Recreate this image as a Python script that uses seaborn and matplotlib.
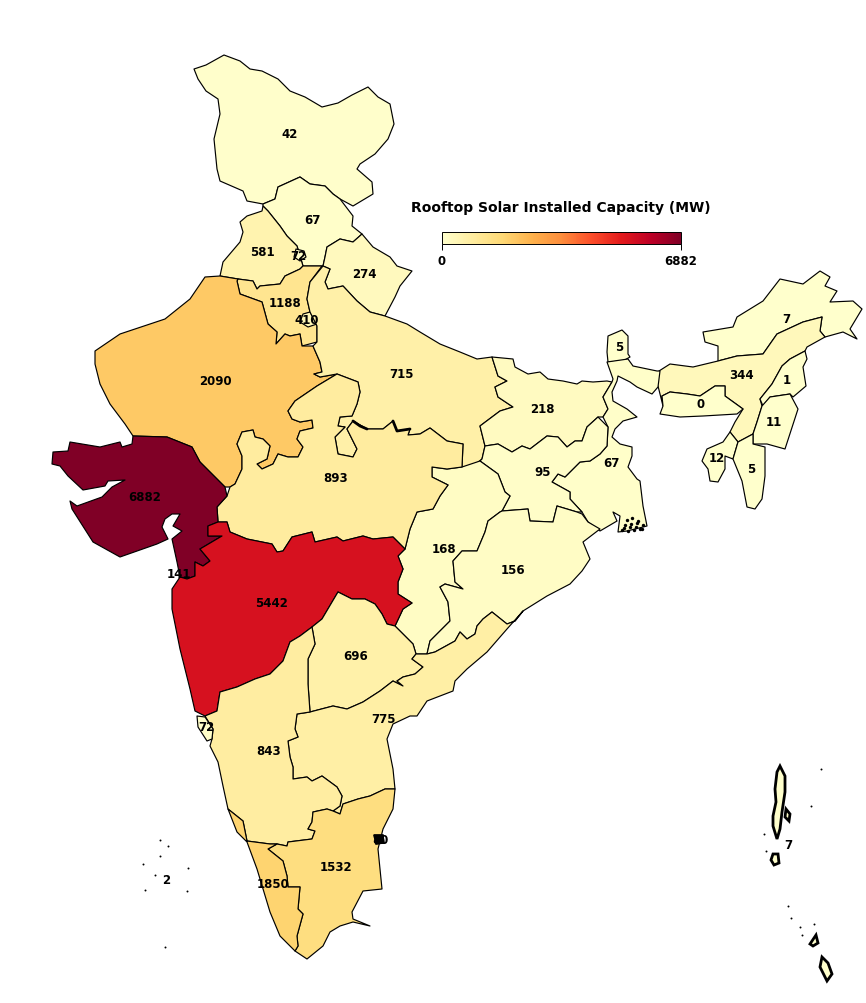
import numpy as np
import matplotlib
matplotlib.use('Agg')
import matplotlib.pyplot as plt
from matplotlib.cm import ScalarMappable
from matplotlib.colors import Normalize
import seaborn as sns
sns.set_style('white')
plt.rcParams['font.family'] = ['DejaVu Sans']

# installed capacity per state, MW
states = ['J&K','Himachal','Punjab','Chandigarh','Haryana','Delhi','Uttarakhand','Rajasthan','UP','Bihar',
          'Sikkim','Arunachal','Assam','Nagaland','Meghalaya','Manipur','Tripura','Mizoram','West Bengal',
          'Jharkhand','Chhattisgarh','Odisha','MP','Gujarat','Daman','Maharashtra','Telangana','AP',
          'Karnataka','Goa','Tamil Nadu','Kerala','Puducherry','Lakshadweep','Andaman']
capacity = [42,67,581,72,1188,410,274,2090,715,218,5,7,344,1,0,11,12,5,67,95,168,156,893,6882,141,5442,696,775,
            843,72,1532,1850,80,2,7]
label_x = [290,312,262,298,285,307,364,215,401,542,619,786,741,787,701,774,717,751,611,543,444,513,336,145,179,
           271,356,383,269,206,336,273,380,166,788]
label_y = [134,220,252,257,304,321,275,382,375,410,348,320,376,381,405,423,459,470,464,473,550,571,479,498,575,
           604,657,720,752,728,868,885,841,881,846]

# state outlines
jk = [(194,70),(206,66),(224,56),(240,62),(250,70),(262,72),(278,80),(290,92),(305,98),(322,108),(338,104),(352,96),
      (368,88),(378,98),(390,105),(394,125),(388,140),(375,155),(360,165),(357,170),(372,183),(373,195),(353,207),
      (340,200),(333,195),(325,187),(310,185),(300,178),(278,188),(275,200),(263,205),(247,202),(243,192),(220,182),
      (217,170),(214,140),(220,115),(218,100),(206,92),(198,80)]
hp = [(263,205),(275,200),(278,188),(300,178),(310,185),(325,187),(333,195),(340,200),(353,217),(352,227),(362,235),
      (353,243),(340,240),(327,248),(325,258),(323,267),(303,267),(297,247),(287,237),(280,227),(268,212),(263,207)]
punjab = [(263,207),(268,212),(280,227),(287,237),(297,247),(303,267),(300,270),(285,277),(280,285),(260,287),
          (257,290),(253,282),(238,280),(220,277),(223,263),(240,243),(243,233),(240,223),(247,217),(262,212)]
chandigarh = [(296,250),(304,252),(306,258),(300,262),(294,258)]
haryana = [(238,280),(253,282),(257,290),(260,287),(280,285),(285,277),(300,270),(303,267),(322,267),(310,283),
           (307,300),(310,313),(317,327),(317,343),(302,347),(300,335),(290,337),(285,335),(276,345),(277,333),
           (268,325),(262,303),(240,295),(237,282)]
delhi = [(303,315),(310,313),(317,325),(308,328),(300,323)]
uttarakhand = [(327,248),(340,240),(353,243),(362,235),(373,248),(390,258),(397,267),(412,272),(400,287),(395,298),
               (385,317),(370,313),(357,302),(343,287),(328,290),(325,283),(330,270),(323,267),(325,258)]
rajasthan = [(95,352),(120,335),(165,320),(190,300),(205,278),(220,277),(238,280),(237,282),(240,295),(262,303),
             (268,325),(277,333),(276,345),(285,335),(290,337),(300,335),(302,347),(313,347),(320,363),(322,373),
             (314,375),(320,378),(337,375),(317,387),(295,402),(288,412),(292,420),(300,423),(312,421),(313,429),
             (300,432),(297,440),(303,448),(298,458),(288,458),(278,455),(273,465),(262,470),(257,465),(267,460),
             (270,447),(263,440),(255,438),(253,431),(242,433),(237,445),(242,457),(242,470),(235,485),(230,488),
             (225,488),(200,463),(192,448),(167,438),(133,437),(125,425),(110,405),(100,385),(95,365)]
up = [(323,267),(330,270),(325,283),(328,290),(343,287),(357,302),(370,313),(385,317),(407,325),(420,333),(440,345),
      (460,353),(477,360),(492,358),(498,377),(507,382),(495,388),(498,398),(513,408),(500,412),(480,427),(485,447),
      (482,460),(472,468),(462,468),(463,445),(447,442),(430,429),(420,435),(408,436),(410,430),(397,432),(393,422),
      (383,430),(367,430),(353,422),(347,430),(357,450),(353,458),(338,455),(335,438),(345,428),(338,427),(340,418),
      (352,417),(357,405),(360,393),(358,383),(337,375),(320,378),(314,375),(322,373),(320,363),(313,347),(317,343),
      (317,327),(310,313),(307,300),(310,283)]
bihar = [(492,358),(513,360),(515,368),(528,375),(540,373),(548,380),(563,382),(577,385),(582,382),(593,383),
         (607,382),(612,383),(603,398),(608,410),(603,418),(598,418),(587,428),(582,442),(575,442),(567,448),
         (558,438),(547,437),(530,450),(522,447),(512,453),(498,445),(485,447),(480,427),(500,412),(513,408),
         (498,398),(495,388),(507,382),(498,377)]
sikkim = [(608,337),(622,331),(628,337),(628,355),(630,358),(623,362),(608,363),(607,353)]
arunachal = [(703,333),(733,328),(737,318),(763,302),(780,280),(803,285),(820,272),(830,278),(825,287),(837,292),
             (830,303),(853,302),(862,310),(850,330),(857,340),(843,333),(825,338),(820,332),(822,318),(803,323),
             (777,335),(763,355),(737,357),(718,362),(718,347),(705,343)]
assam = [(659,372),(670,365),(693,368),(718,362),(737,357),(763,355),(777,335),(803,323),(822,318),(820,332),
         (825,338),(807,348),(805,352),(790,360),(782,367),(772,385),(760,400),(762,407),(757,423),(753,435),
         (738,443),(730,433),(735,423),(743,410),(725,397),(725,387),(715,387),(700,397),(687,395),(670,393),
         (662,397),(663,407),(658,387),(655,385)]
nagaland = [(805,352),(807,360),(803,368),(806,387),(793,398),(790,395),(770,398),(763,407),(760,400),(772,385),
            (782,367),(790,360)]
meghalaya = [(662,397),(670,393),(687,395),(700,397),(715,387),(725,387),(725,397),(743,410),(737,415),(703,417),
             (680,418),(660,415),(663,407)]
manipur = [(762,407),(770,398),(790,395),(798,410),(785,450),(767,445),(753,445),(753,435),(757,423)]
tripura = [(730,433),(738,443),(733,460),(725,457),(725,470),(718,483),(710,482),(708,470),(702,462),(707,450),
           (723,443)]
mizoram = [(738,443),(753,435),(753,445),(765,448),(765,477),(762,500),(755,510),(747,508),(742,482),(733,460)]
west_bengal = [(607,363),(628,360),(633,367),(657,372),(660,372),(658,388),(652,395),(637,388),(630,383),(618,377),
               (617,382),(612,393),(613,402),(627,410),(637,418),(623,422),(615,430),(612,438),(620,445),(632,448),
               (632,457),(628,468),(637,480),(640,482),(643,507),(647,527),(627,532),(618,533),(620,517),(613,513),
               (617,522),(600,532),(588,523),(582,513),(570,500),(570,493),(552,483),(558,475),(565,478),(580,463),
               (590,462),(600,455),(607,447),(608,428),(603,418),(608,410),(603,398),(612,383),(613,380)]
jharkhand = [(485,447),(498,445),(512,453),(522,447),(530,450),(547,437),(558,438),(567,448),(575,442),(582,442),
             (587,428),(598,418),(608,428),(607,447),(600,455),(590,462),(580,463),(565,478),(558,475),(552,483),
             (570,493),(570,500),(582,513),(577,513),(557,507),(553,523),(530,522),(528,510),(502,512),(510,497),
             (505,493),(498,475),(480,462),(482,460)]
chhattisgarh = [(462,468),(480,462),(498,475),(505,493),(510,497),(502,512),(500,513),(488,522),(485,533),(477,552),
                (462,552),(453,562),(455,583),(463,590),(445,585),(440,588),(448,603),(450,622),(430,642),(427,655),
                (416,655),(413,645),(405,637),(395,627),(403,610),(412,604),(398,595),(398,583),(403,570),(398,557),
                (405,550),(410,530),(417,513),(433,510),(440,497),(448,486),(432,478),(432,468),(447,470)]
odisha = [(502,512),(528,510),(530,522),(553,523),(557,507),(577,513),(582,515),(588,523),(600,530),(583,543),
          (590,560),(582,572),(570,585),(547,597),(523,612),(515,622),(507,625),(492,613),(483,620),(477,627),
          (475,635),(467,640),(460,633),(455,642),(435,653),(427,655),(430,642),(450,622),(448,603),(440,588),
          (445,585),(463,590),(455,583),(453,562),(462,552),(477,552),(485,533),(488,522),(500,513)]
mp = [(337,375),(358,383),(360,393),(357,405),(352,417),(340,418),(338,427),(345,428),(335,438),(338,455),(353,458),
      (357,450),(347,430),(353,422),(367,430),(383,430),(393,422),(397,432),(410,430),(408,436),(420,435),(430,429),
      (447,442),(463,445),(462,468),(447,470),(432,468),(432,478),(448,486),(440,497),(433,510),(417,513),(410,530),
      (405,550),(393,538),(373,540),(363,537),(343,542),(337,538),(315,543),(312,533),(292,538),(283,552),(277,553),
      (272,545),(247,540),(230,533),(227,523),(218,523),(217,508),(227,497),(230,488),(235,485),(242,470),(242,457),
      (237,445),(242,433),(253,431),(255,438),(263,440),(270,447),(267,460),(257,465),(262,470),(273,465),(278,455),
      (288,458),(298,458),(303,448),(297,440),(300,432),(313,429),(312,421),(300,423),(292,420),(288,412),(295,402),
      (317,387)]
gujarat = [(133,437),(167,438),(192,448),(200,463),(225,488),(227,497),(217,508),(218,523),(208,527),(208,537),
           (222,537),(200,550),(210,562),(203,567),(195,563),(195,577),(187,580),(180,578),(177,563),(172,540),
           (182,532),(173,527),(180,515),(172,515),(165,520),(162,528),(168,540),(157,545),(120,558),(93,543),(72,510),
           (70,502),(77,507),(102,498),(112,488),(125,481),(108,482),(105,487),(83,491),(68,477),(60,467),(52,465),
           (53,453),(68,452),(70,443),(100,448),(120,443),(122,448),(132,445)]
daman = [(181,578),(187,580),(187,584),(181,583)]
maharashtra = [(180,578),(187,580),(195,577),(195,563),(203,567),(210,562),(200,550),(222,537),(208,537),(208,527),
               (218,523),(227,523),(230,533),(247,540),(272,545),(277,553),(283,552),(292,538),(312,533),(315,543),
               (337,538),(343,542),(363,537),(373,540),(393,538),(405,550),(398,557),(403,570),(398,583),(398,595),
               (412,604),(403,610),(395,627),(387,625),(382,615),(375,605),(365,600),(352,600),(338,593),(322,620),
               (312,628),(300,637),(290,643),(283,662),(270,675),(255,680),(237,688),(220,693),(217,712),(205,717),
               (195,712),(190,690),(180,650),(172,610),(172,590)]
telangana = [(338,593),(352,600),(365,600),(375,605),(382,615),(387,625),(395,627),(405,637),(413,645),(416,655),
             (412,660),(423,668),(415,675),(403,678),(397,682),(403,687),(393,682),(380,692),(363,703),(347,710),
             (333,707),(310,713),(308,685),(308,660),(315,645),(312,628),(322,620)]
ap = [(310,713),(333,707),(347,710),(363,703),(380,692),(393,682),(403,687),(397,682),(403,678),(415,675),(423,668),
      (412,660),(416,655),(427,655),(435,653),(455,642),(460,633),(467,640),(475,635),(477,627),(483,620),(492,613),
      (507,625),(515,622),(523,612),(507,630),(487,653),(467,670),(455,682),(453,692),(427,702),(417,717),(410,717),
      (393,725),(387,740),(393,770),(395,790),(385,790),(370,797),(358,800),(343,805),(340,815),(333,812),(340,807),
      (342,797),(337,788),(322,777),(312,782),(307,778),(293,780),(293,768),(290,758),(288,742),(298,738),(295,730),
      (297,715)]
karnataka = [(205,717),(217,712),(220,693),(237,688),(255,680),(270,675),(283,662),(290,643),(300,637),(312,628),
             (315,645),(308,660),(308,685),(310,713),(297,715),(295,730),(298,738),(288,742),(290,758),(293,768),
             (293,780),(307,778),(312,782),(322,777),(337,788),(342,797),(340,807),(333,812),(327,810),(313,813),
             (312,823),(308,830),(315,832),(312,840),(288,843),(287,847),(277,845),(270,845),(247,842),(243,822),
             (228,810),(223,787),(218,763),(210,747),(212,740),(213,730)]
goa = [(197,717),(205,718),(213,730),(212,740),(207,742),(198,728)]
tamil_nadu = [(288,843),(312,840),(315,832),(308,830),(312,823),(313,813),(327,810),(333,812),(340,815),(343,805),
              (358,800),(370,797),(385,790),(395,790),(393,810),(383,830),(378,850),(382,890),(363,892),(352,913),
              (353,920),(370,927),(353,923),(340,927),(330,933),(323,947),(307,960),(295,952),(298,947),(297,937),
              (303,915),(298,910),(300,888),(288,888),(287,877),(283,862),(268,850),(277,845),(287,847)]
kerala = [(228,810),(243,822),(247,842),(270,845),(277,845),(268,850),(283,862),(287,877),(288,888),(300,888),
          (298,910),(303,915),(297,937),(298,947),(295,952),(280,937),(270,913),(257,870),(247,843),(237,833)]
puducherry = [(374,836),(383,836),(384,844),(376,845)]
lakshadweep = [(160,841),(168,847),(160,857),(143,865),(155,876),(188,869),(145,891),(187,892),(165,948)]
andaman = [(780,767),(785,777),(785,793),(782,813),(780,830),(777,840),(773,827),(773,817),(776,803),(775,790),
           (777,773)]
baratang = [(786,810),(790,815),(789,822),(785,818)]
little_andaman = [(773,855),(778,855),(779,864),(774,866),(771,861)]
nicobar = [(822,958),(828,964),(832,975),(827,982),(820,968)]
nicobar_small = [(810,945),(816,936),(818,944),(813,947)]
outlines = [jk,hp,punjab,chandigarh,haryana,delhi,uttarakhand,rajasthan,up,bihar,sikkim,arunachal,assam,nagaland,
            meghalaya,manipur,tripura,mizoram,west_bengal,jharkhand,chhattisgarh,odisha,mp,gujarat,daman,maharashtra,
            telangana,ap,karnataka,goa,tamil_nadu,kerala,puducherry,None,None]
extra_islands = [andaman,baratang,little_andaman,nicobar,nicobar_small]
specks_x = [821,811,764,766,788,791,800,802,814]
specks_y = [770,807,835,852,907,919,928,936,925]
sundarban_x = [622,625,628,631,634,637,640,643,627,632,638,624,630,636,642]
sundarban_y = [531,526,532,525,531,524,530,526,521,519,522,529,528,528,530]
thick_border_1 = [(353,422),(360,427),(367,430)]
thick_border_2 = [(393,422),(397,432),(410,430)]

cmap = sns.color_palette('YlOrRd', as_cmap=True)
norm = Normalize(vmin=0, vmax=6882)

fig = plt.figure(figsize=(8.66, 10.04), dpi=100)
ax = fig.add_axes([0, 0, 1, 1])

for shape, mw in zip(outlines, capacity):
    if shape is None:
        continue
    xs, ys = zip(*shape)
    ax.fill(xs, ys, facecolor=cmap(norm(mw)), edgecolor='black', linewidth=0.85, joinstyle='round')

# puducherry is a black blob at this scale
xs, ys = zip(*puducherry)
ax.fill(xs, ys, facecolor='black', edgecolor='black', linewidth=1)

for shape in extra_islands:
    xs, ys = zip(*shape)
    ax.fill(xs, ys, facecolor=cmap(norm(7)), edgecolor='black', linewidth=2.0)

for seg in [thick_border_1, thick_border_2]:
    xs, ys = zip(*seg)
    ax.plot(xs, ys, color='black', linewidth=2)

sns.scatterplot(x=specks_x + [p[0] for p in lakshadweep], y=specks_y + [p[1] for p in lakshadweep],
                color='black', s=2, linewidth=0, ax=ax, legend=False)
sns.scatterplot(x=sundarban_x, y=sundarban_y, color='black', s=6, linewidth=0, ax=ax, legend=False)
ax.set_xlim(0, 866)
ax.set_ylim(1004, 0)
ax.axis('off')

for x, y, mw in zip(label_x, label_y, capacity):
    ax.text(x, y, str(mw), ha='center', va='center', fontsize=8.5, fontweight='bold', color='black')

ax.text(560.5, 208, 'Rooftop Solar Installed Capacity (MW)', ha='center', va='center',
        fontsize=10, fontweight='bold', color='black')

# colourbar, pixel box 442-681 x 233-245
cax = fig.add_axes([442/866, 1-245/1004, 239/866, 12/1004])
cb = fig.colorbar(ScalarMappable(norm=norm, cmap=cmap), cax=cax, orientation='horizontal')
cb.set_ticks([0, 6882])
cb.set_ticklabels(['0', '6882'])
cb.ax.tick_params(length=4, width=0.7, labelsize=8.5, pad=3, bottom=True, colors='black')
for lab in cb.ax.get_xticklabels():
    lab.set_fontweight('bold')
cb.outline.set_linewidth(0.7)
cb.outline.set_edgecolor('black')

fig.savefig('out.png', dpi=100, facecolor='white')
